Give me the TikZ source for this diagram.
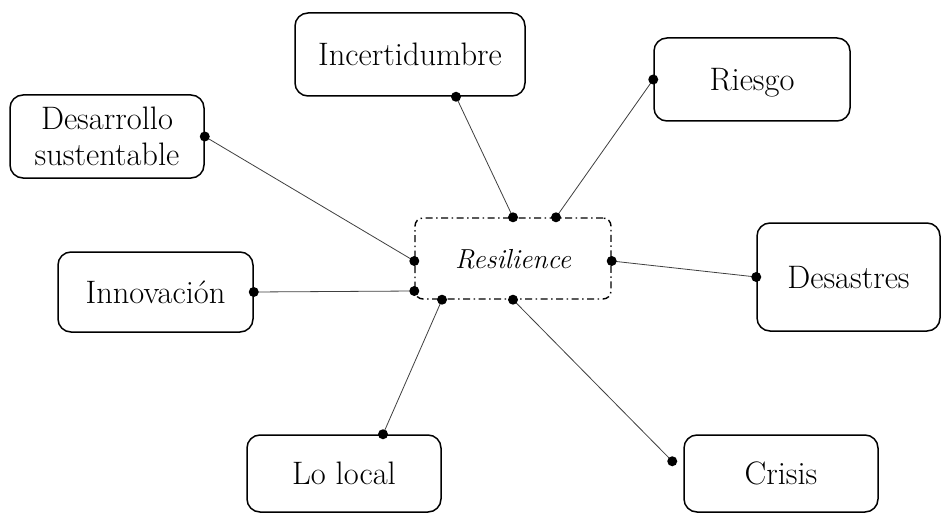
\documentclass[tikz,border=0pt]{standalone}
\usetikzlibrary{calc}
\begin{document}
\begin{tikzpicture}[x=1pt,y=-1pt,
  box/.style={draw=black, line width=1.5pt, rounded corners=13pt, inner sep=0pt,
    font=\fontsize{32.5}{36}\selectfont, align=center},
  oneline/.style={text height=22pt, text depth=0pt},
  core/.style={draw=black, line width=1.4pt, rounded corners=8pt, inner sep=0pt,
    dash pattern=on 7pt off 3.5pt on 1.5pt off 3.5pt,
    font=\fontsize{27.5}{32}\selectfont\itshape, text height=19pt, text depth=0pt},
  link/.style={draw=black!75, line width=0.8pt},
  dotmark/.style={circle, fill=black, inner sep=0pt, minimum size=10pt}]
\useasboundingbox (0,0) rectangle (941,513);
\fill[white] (0,0) rectangle (941,513);

% nodes
\node[box, oneline, minimum width=230pt, minimum height=83pt] (inc) at (410,54.5) {Incertidumbre};
\node[box, oneline, minimum width=196pt, minimum height=83pt] (rie) at (752,79.5) {Riesgo};
\node[box, minimum width=194pt, minimum height=83pt] (des) at (107,136.5) {Desarrollo\\sustentable};
\node[core, minimum width=196pt, minimum height=81pt] (res) at (513,258.5) {Resilience};
\node[box, oneline, minimum width=195pt, minimum height=80pt] (inn) at (155.5,292) {Innovación};
\node[box, oneline, minimum width=183pt, minimum height=108pt] (dsa) at (848.5,277) {Desastres};
\node[box, oneline, minimum width=194pt, minimum height=77pt] (loc) at (344,473.5) {Lo local};
\node[box, oneline, minimum width=194pt, minimum height=77pt] (cri) at (781,473.5) {Crisis};

% connection points
\coordinate (pinc) at ($(inc.south)+(46,0)$);
\coordinate (prie) at (rie.west);
\coordinate (pdes) at (des.east);
\coordinate (pinn) at (inn.east);
\coordinate (pdsa) at (dsa.west);
\coordinate (ploc) at ($(loc.north)+(39,0)$);
\coordinate (pcri) at ($(cri.north west)+(-11,27)$);

\coordinate (r1) at (res.north);
\coordinate (r2) at ($(res.north)+(43,0)$);
\coordinate (r3) at ($(res.west)+(0,2.5)$);
\coordinate (r4) at ($(res.west)+(0,32.5)$);
\coordinate (r5) at ($(res.south)+(-71,0)$);
\coordinate (r6) at (res.south);
\coordinate (r7) at ($(res.east)+(0,2.5)$);

% links
\draw[link] (pinc) -- (r1);
\draw[link] (prie) -- (r2);
\draw[link] (pdes) -- (r3);
\draw[link] (pinn) -- (r4);
\draw[link] (ploc) -- (r5);
\draw[link] (pcri) -- (r6);
\draw[link] (pdsa) -- (r7);

% dots
\foreach \p in {pinc,prie,pdes,pinn,pdsa,ploc,pcri,r1,r2,r3,r4,r5,r6,r7}
  \node[dotmark] at (\p) {};
\end{tikzpicture}
\end{document}
